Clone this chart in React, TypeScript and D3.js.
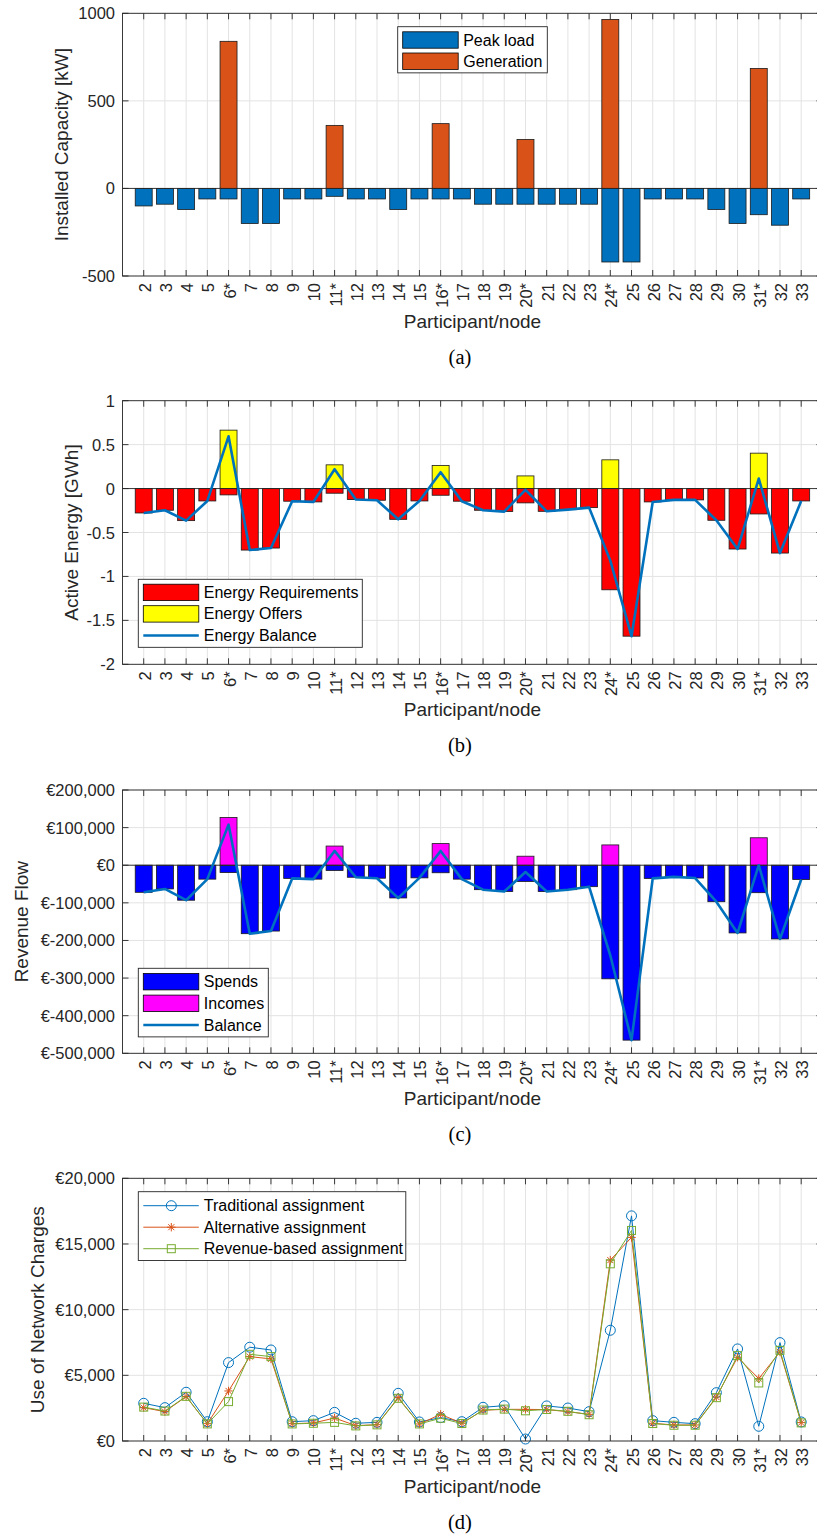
import React from 'react';
import * as d3 from 'd3';

const nodes = ['2','3','4','5','6*','7','8','9','10','11*','12','13','14','15','16*','17','18','19','20*','21','22','23','24*','25','26','27','28','29','30','31*','32','33'];

// Panel (a) Installed capacity [kW]
const peakLoad = [-100,-90,-120,-60,-60,-200,-200,-60,-60,-45,-60,-60,-120,-60,-60,-60,-90,-90,-90,-90,-90,-90,-420,-420,-60,-60,-60,-120,-200,-150,-210,-60];
const generation = [0,0,0,0,840,0,0,0,0,360,0,0,0,0,370,0,0,0,280,0,0,0,965,0,0,0,0,0,0,685,0,0];
const capTicks = [-500,0,500,1000];

// Panel (b) Active energy [GWh]
const energyReq = [-0.278,-0.247,-0.365,-0.141,-0.072,-0.70,-0.677,-0.144,-0.152,-0.053,-0.125,-0.133,-0.35,-0.141,-0.076,-0.144,-0.247,-0.262,-0.163,-0.259,-0.24,-0.217,-1.152,-1.68,-0.152,-0.129,-0.129,-0.361,-0.688,-0.289,-0.734,-0.141];
const energyOff = [0,0,0,0,0.665,0,0,0,0,0.27,0,0,0,0,0.262,0,0,0,0.144,0,0,0,0.327,0,0,0,0,0,0,0.403,0,0];
const energyBal = [-0.278,-0.247,-0.365,-0.141,0.595,-0.70,-0.677,-0.144,-0.152,0.22,-0.125,-0.133,-0.35,-0.141,0.186,-0.144,-0.247,-0.262,-0.015,-0.259,-0.24,-0.217,-0.82,-1.68,-0.152,-0.129,-0.129,-0.361,-0.688,0.114,-0.734,-0.141];
const energyTicks = [-2,-1.5,-1,-0.5,0,0.5,1];

// Panel (c) Revenue flow [EUR]
const spends = [-72000,-63000,-93000,-37000,-19500,-182000,-175000,-35000,-37000,-14000,-32000,-34500,-87000,-33600,-20000,-37000,-65000,-70000,-43000,-70000,-65000,-57000,-302000,-465000,-35000,-31000,-34000,-97000,-180000,-73000,-196000,-38000];
const incomes = [0,0,0,0,127000,0,0,0,0,51000,0,0,0,0,57500,0,0,0,24000,0,0,0,54000,0,0,0,0,0,0,73000,0,0];
const revBalance = [-72000,-63000,-93000,-37000,108000,-182000,-175000,-35000,-37000,38000,-32000,-34500,-87000,-33600,38000,-37000,-65000,-70000,-18000,-70000,-65000,-57000,-240000,-465000,-35000,-31000,-34000,-97000,-180000,0,-196000,-38000];
const revTicks = [-500000,-400000,-300000,-200000,-100000,0,100000,200000];

// Panel (d) Use of network charges [EUR]
const traditional = [2870,2540,3710,1470,5970,7140,6930,1470,1550,2180,1350,1420,3630,1450,1780,1470,2565,2690,150,2670,2510,2235,8430,17140,1550,1420,1320,3680,7010,1120,7490,1450];
const alternative = [2540,2235,3380,1320,3810,6425,6250,1320,1370,1750,1170,1245,3300,1295,2030,1350,2340,2410,2410,2390,2235,2030,13770,15500,1350,1220,1220,3350,6375,4750,6780,1400];
const revenueBased = [2580,2280,3400,1300,3000,6600,6425,1300,1350,1420,1150,1230,3250,1300,1730,1330,2360,2430,2300,2400,2260,2000,13490,16030,1330,1200,1200,3300,6500,4420,6900,1380];
const chargeTicks = [0,5000,10000,15000,20000];

const W = 817, H = 1537;
const L = 122.5, R = 822.4;
const AX = '#262626';
const GRID = '#e3e3e3';
const FONT = '"Liberation Sans", Arial, Helvetica, sans-serif';
const SERIF = '"Liberation Serif", "Times New Roman", serif';

const x = d3.scaleLinear().domain([0, 33]).range([L, R]);
const bw = (x(1) - x(0)) * 0.8;

const euro = (v: number) => (v < 0 ? '€-' : '€') + d3.format(',')(Math.abs(v));
const plain = (v: number) => (v < 0 ? '-' + String(Math.abs(v)) : String(v));

type LegendItem = { label: string; kind: 'patch' | 'line' | 'marker'; color: string; marker?: string };

function Marker({ kind, cx, cy, color }: { kind: string; cx: number; cy: number; color: string }) {
  if (kind === 'circle') return <circle cx={cx} cy={cy} r={5} fill="none" stroke={color} strokeWidth={1} />;
  if (kind === 'square') return <rect x={cx - 4} y={cy - 4} width={8} height={8} fill="none" stroke={color} strokeWidth={1} />;
  const s = 4.2, d = s * 0.72;
  return (
    <g stroke={color} strokeWidth={1}>
      <line x1={cx - s} y1={cy} x2={cx + s} y2={cy} />
      <line x1={cx} y1={cy - s} x2={cx} y2={cy + s} />
      <line x1={cx - d} y1={cy - d} x2={cx + d} y2={cy + d} />
      <line x1={cx - d} y1={cy + d} x2={cx + d} y2={cy - d} />
    </g>
  );
}

function Axes({ top, bottom, domain, ticks, fmt, ylabel, ylabelX, sub, children }: any) {
  const y = d3.scaleLinear().domain(domain).range([bottom, top]);
  return (
    <g>
      {nodes.map((n, i) => (
        <line key={'gv' + i} x1={x(i + 1)} x2={x(i + 1)} y1={top} y2={bottom} stroke={GRID} strokeWidth={1} />
      ))}
      {ticks.map((t: number) => (
        <line key={'gh' + t} x1={L} x2={R} y1={y(t)} y2={y(t)} stroke={GRID} strokeWidth={1} />
      ))}
      {children(y)}
      <rect x={L} y={top} width={R - L} height={bottom - top} fill="none" stroke={AX} strokeWidth={0.9} />
      {nodes.map((n, i) => (
        <g key={'t' + i}>
          <line x1={x(i + 1)} x2={x(i + 1)} y1={bottom} y2={bottom - 6} stroke={AX} strokeWidth={0.9} />
          <line x1={x(i + 1)} x2={x(i + 1)} y1={top} y2={top + 6} stroke={AX} strokeWidth={0.9} />
          <text transform={`translate(${x(i + 1) + 1},${bottom + 7}) rotate(-90)`} textAnchor="end" dominantBaseline="central" fontSize={16.5} fill={AX}>{n}</text>
        </g>
      ))}
      {ticks.map((t: number) => (
        <g key={'yt' + t}>
          <line x1={L} x2={L + 6} y1={y(t)} y2={y(t)} stroke={AX} strokeWidth={0.9} />
          <line x1={R} x2={R - 6} y1={y(t)} y2={y(t)} stroke={AX} strokeWidth={0.9} />
          <text x={L - 7.5} y={y(t)} textAnchor="end" dominantBaseline="central" fontSize={16.5} fill={AX}>{fmt(t)}</text>
        </g>
      ))}
      <text transform={`translate(${ylabelX},${(top + bottom) / 2}) rotate(-90)`} textAnchor="middle" dominantBaseline="central" fontSize={19} fill={AX}>{ylabel}</text>
      <text x={(L + R) / 2} y={bottom + 52} textAnchor="middle" fontSize={19} fill={AX}>Participant/node</text>
      <text x={460} y={bottom + 88} textAnchor="middle" fontSize={20.5} fill="#000" fontFamily={SERIF}>{sub}</text>
    </g>
  );
}

function Legend({ x0, y0, w, rows, items }: { x0: number; y0: number; w: number; rows: number[]; items: LegendItem[] }) {
  const h = rows[rows.length - 1] - y0 + (rows[1] - rows[0]) * 0.55;
  return (
    <g>
      <rect x={x0} y={y0} width={w} height={h} fill="#fff" stroke={AX} strokeWidth={0.9} />
      {items.map((it, i) => {
        const cy = rows[i];
        return (
          <g key={it.label}>
            {it.kind === 'patch' && <rect x={x0 + 5} y={cy - 8.2} width={55.5} height={16.4} fill={it.color} stroke="#000" strokeWidth={0.8} />}
            {it.kind === 'line' && <line x1={x0 + 5} x2={x0 + 60.5} y1={cy} y2={cy} stroke={it.color} strokeWidth={2.6} />}
            {it.kind === 'marker' && (
              <g>
                <line x1={x0 + 5} x2={x0 + 60.5} y1={cy} y2={cy} stroke={it.color} strokeWidth={1} />
                <Marker kind={it.marker!} cx={x0 + 33} cy={cy} color={it.color} />
              </g>
            )}
            <text x={x0 + 65.5} y={cy} dominantBaseline="central" fontSize={16} fill="#000">{it.label}</text>
          </g>
        );
      })}
    </g>
  );
}

function Bars({ y, values, color }: { y: any; values: number[]; color: string }) {
  return (
    <g>
      {values.map((v, i) =>
        v === 0 ? null : (
          <rect key={i} x={x(i + 1) - bw / 2} width={bw} y={Math.min(y(v), y(0))} height={Math.abs(y(v) - y(0))} fill={color} stroke="#1a1a1a" strokeWidth={0.8} />
        )
      )}
    </g>
  );
}

function Baseline({ y }: { y: any }) {
  return <line x1={L} x2={R} y1={y(0)} y2={y(0)} stroke={AX} strokeWidth={0.9} />;
}

function lineOf(y: any, vals: number[]) {
  return d3.line<number>().x((_, i) => x(i + 1)).y((v) => y(v))(vals) || '';
}

export default function App() {
  return (
    <svg width={W} height={H} viewBox={`0 0 ${W} ${H}`} style={{ position: 'absolute', left: 0, top: 0, background: '#fff' }} fontFamily={FONT}>
      <rect x={0} y={0} width={W} height={H} fill="#fff" />
      <Axes top={13.3} bottom={276} domain={[-500, 1000]} ticks={capTicks} fmt={plain} ylabel="Installed Capacity [kW]" ylabelX={61.7} sub="(a)">
        {(y: any) => (
          <g>
            <Bars y={y} values={peakLoad} color="#0072BD" />
            <Bars y={y} values={generation} color="#D95319" />
            <Baseline y={y} />
            <Legend x0={397.7} y0={26.7} w={149.6} rows={[40, 61.2]} items={[
              { label: 'Peak load', kind: 'patch', color: '#0072BD' },
              { label: 'Generation', kind: 'patch', color: '#D95319' },
            ]} />
          </g>
        )}
      </Axes>
      <Axes top={400.7} bottom={664.3} domain={[-2, 1]} ticks={energyTicks} fmt={plain} ylabel="Active Energy [GWh]" ylabelX={71.5} sub="(b)">
        {(y: any) => (
          <g>
            <Bars y={y} values={energyReq} color="#FF0000" />
            <Bars y={y} values={energyOff} color="#FFFF00" />
            <Baseline y={y} />
            <path d={lineOf(y, energyBal)} fill="none" stroke="#0072BD" strokeWidth={2.6} strokeLinejoin="round" />
            <Legend x0={138.3} y0={579.3} w={224} rows={[592.4, 613.9, 635.5]} items={[
              { label: 'Energy Requirements', kind: 'patch', color: '#FF0000' },
              { label: 'Energy Offers', kind: 'patch', color: '#FFFF00' },
              { label: 'Energy Balance', kind: 'line', color: '#0072BD' },
            ]} />
          </g>
        )}
      </Axes>
      <Axes top={790} bottom={1053.3} domain={[-500000, 200000]} ticks={revTicks} fmt={euro} ylabel="Revenue Flow" ylabelX={21} sub="(c)">
        {(y: any) => (
          <g>
            <Bars y={y} values={spends} color="#0000FF" />
            <Bars y={y} values={incomes} color="#FF00FF" />
            <Baseline y={y} />
            <path d={lineOf(y, revBalance)} fill="none" stroke="#0072BD" strokeWidth={2.6} strokeLinejoin="round" />
            <Legend x0={138.3} y0={968.3} w={130} rows={[981.7, 1003.3, 1025]} items={[
              { label: 'Spends', kind: 'patch', color: '#0000FF' },
              { label: 'Incomes', kind: 'patch', color: '#FF00FF' },
              { label: 'Balance', kind: 'line', color: '#0072BD' },
            ]} />
          </g>
        )}
      </Axes>
      <Axes top={1178.3} bottom={1441} domain={[0, 20000]} ticks={chargeTicks} fmt={euro} ylabel="Use of Network Charges" ylabelX={37} sub="(d)">
        {(y: any) => {
          const series = [
            { vals: traditional, color: '#0072BD', m: 'circle' },
            { vals: alternative, color: '#D95319', m: 'asterisk' },
            { vals: revenueBased, color: '#77AC30', m: 'square' },
          ];
          return (
            <g>
              {series.map((s) => (
                <g key={s.color}>
                  <path d={lineOf(y, s.vals)} fill="none" stroke={s.color} strokeWidth={1} />
                  {s.vals.map((v, i) => (
                    <Marker key={i} kind={s.m} cx={x(i + 1)} cy={y(v)} color={s.color} />
                  ))}
                </g>
              ))}
              <Legend x0={138.3} y0={1191.7} w={267.5} rows={[1205.7, 1227.2, 1248.7]} items={[
                { label: 'Traditional assignment', kind: 'marker', color: '#0072BD', marker: 'circle' },
                { label: 'Alternative assignment', kind: 'marker', color: '#D95319', marker: 'asterisk' },
                { label: 'Revenue-based assignment', kind: 'marker', color: '#77AC30', marker: 'square' },
              ]} />
            </g>
          );
        }}
      </Axes>
    </svg>
  );
}
